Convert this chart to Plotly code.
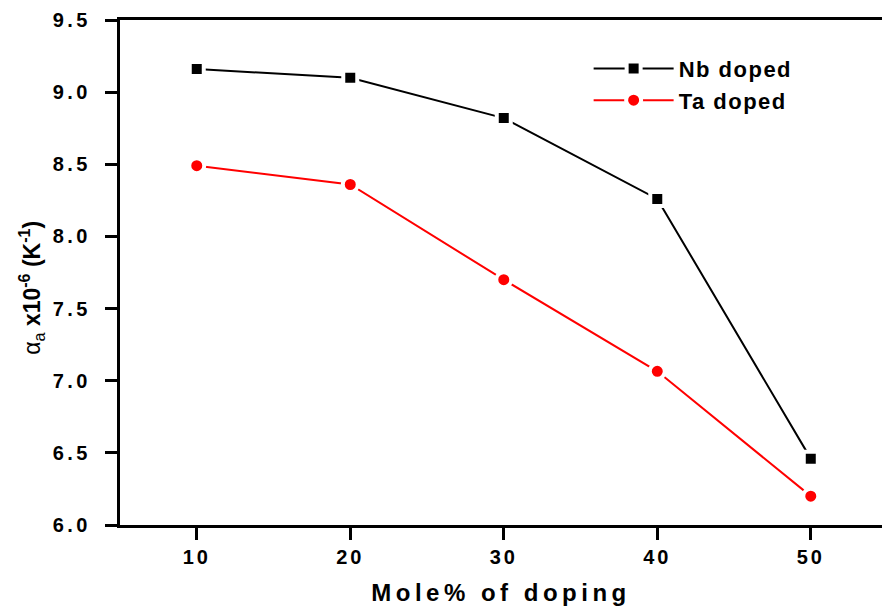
import plotly.graph_objects as go

# Doping level (mole %) and thermal expansion coefficient alpha_a (x10^-6 K^-1)
mole_pct = [10, 20, 30, 40, 50]
nb_doped = [9.16, 9.10, 8.82, 8.26, 6.46]
ta_doped = [8.49, 8.36, 7.70, 7.065, 6.20]

x_ticks = [10, 20, 30, 40, 50]
y_ticks = [6.0, 6.5, 7.0, 7.5, 8.0, 8.5, 9.0, 9.5]

FONT = "Liberation Sans, Arial, sans-serif"


def spaced(text, px):
    """Bold text with extra spacing between letters."""
    return f'<span style="letter-spacing:{px}px"><b>{text}</b></span>'


fig = go.Figure()
fig.add_trace(go.Scatter(
    x=mole_pct, y=nb_doped, name=spaced("Nb doped", 1.5), mode="lines+markers",
    line=dict(color="black", width=2),
    marker=dict(symbol="square", size=14, color="black",
                line=dict(color="white", width=4)),
))
fig.add_trace(go.Scatter(
    x=mole_pct, y=ta_doped, name=spaced("Ta doped", 1.5), mode="lines+markers",
    line=dict(color="#ff0000", width=2),
    marker=dict(symbol="circle", size=15, color="#ff0000",
                line=dict(color="white", width=4)),
))

axis_common = dict(
    showgrid=False, zeroline=False,
    showline=True, linecolor="black", linewidth=3,
    ticks="outside", ticklen=12, tickwidth=3, tickcolor="black",
    tickfont=dict(family=FONT, size=20, color="black"),
)

fig.update_layout(
    width=882, height=610,
    margin=dict(l=120, r=0, t=20, b=85),
    paper_bgcolor="white", plot_bgcolor="white",
    font=dict(family=FONT, color="black"),
    xaxis=dict(
        range=[5, 54.64], tickvals=x_ticks,
        ticktext=[spaced(str(v), 3) for v in x_ticks],
        mirror=True, ticklabelstandoff=0,
        title=dict(text=spaced("Mole% of doping", 4.5),
                   font=dict(family=FONT, size=24, color="black"),
                   standoff=18),
        **axis_common,
    ),
    yaxis=dict(
        range=[6.0, 9.5], tickvals=y_ticks,
        ticktext=[spaced(f"{v:.1f}", 3.5) for v in y_ticks],
        ticklabelstandoff=10,
        **axis_common,
    ),
    annotations=[dict(
        text="α<sub>a</sub> <b>x10<sup>-6</sup> (K<sup>-1</sup>)</b>",
        font=dict(family=FONT, size=23, color="black"),
        xref="paper", yref="paper", x=-0.116, y=0.469,
        xanchor="center", yanchor="middle", textangle=-90,
        showarrow=False,
    )],
    legend=dict(
        x=0.615, y=0.945, xanchor="left", yanchor="top",
        bgcolor="rgba(0,0,0,0)", borderwidth=0,
        font=dict(family=FONT, size=22, color="black"),
        itemwidth=80, tracegroupgap=0,
    ),
    showlegend=True,
)

fig.write_html("out.html")
